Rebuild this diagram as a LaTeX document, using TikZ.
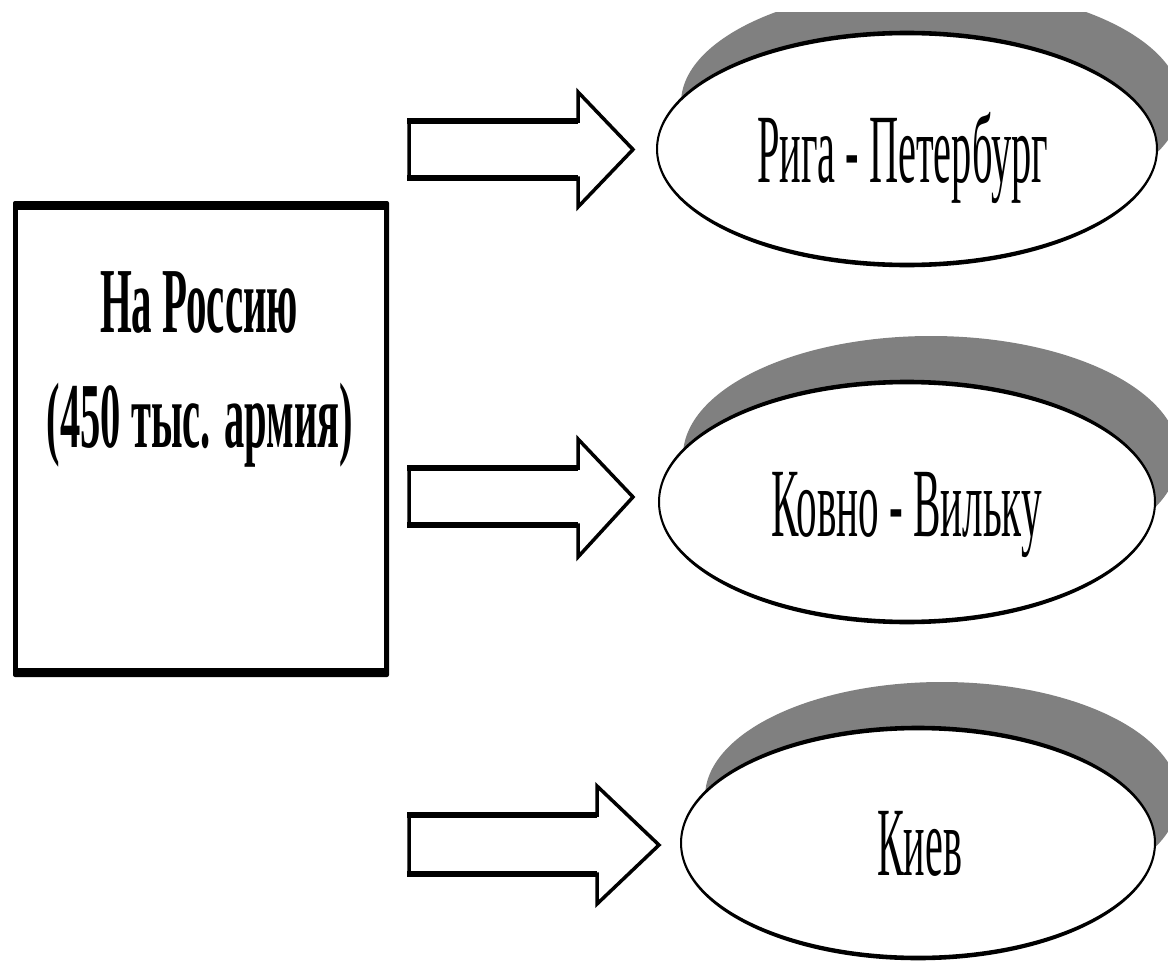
\documentclass[tikz,border=0pt]{standalone}
\usepackage{fontspec}
\setmainfont{Liberation Serif}
\usepackage{graphicx}
\definecolor{shadowgray}{HTML}{808080}
\tikzset{
  shadowfill/.style={fill=shadowgray},
  ovalfill/.style={fill=white},
  ring/.style={fill=black, even odd rule},
  arrowbody/.style={draw=black, fill=white, line width=3.5pt, line join=miter},
  shaftedge/.style={draw=black, line width=6pt},
  txt/.style={inner sep=0pt, anchor=base},
}
\newcommand{\ovaltxt}[2]{\resizebox{#1}{\height}{\fontsize{98pt}{98pt}\selectfont #2}}
\newcommand{\boxtxt}[2]{\resizebox{#1}{\height}{\fontsize{93pt}{93pt}\selectfont\bfseries #2}}
\begin{document}
\begin{tikzpicture}[x=1pt,y=-1pt]
\useasboundingbox (0,0) rectangle (1168,961);
\fill[white] (0,0) rectangle (1168,961);

% ---- main box ----
\fill[black, rounded corners=2pt] (13,201) rectangle (389,677);
\fill[white] (18,210) rectangle (384,668);
\node[txt] (russia1) at (199,332) {\boxtxt{198pt}{На Россию}};
\node[txt] (russia2) at (200,447) {\boxtxt{306pt}{(450 тыс. армия)}};

% ---- shadows ----
\begin{scope}
  \clip (0,12) rectangle (1168,961);
  \fill[shadowfill] (931,103) ellipse [x radius=250pt, y radius=116pt];
\end{scope}
\fill[shadowfill] (931,456) ellipse [x radius=248pt, y radius=120pt];
\fill[shadowfill] (942,797) ellipse [x radius=237pt, y radius=115pt];

% ---- ovals ----
\fill[ovalfill] (907,149) ellipse [x radius=250pt, y radius=116pt];
\fill[ring] (907,149) ellipse [x radius=251pt, y radius=118.3pt]
            (907,149) ellipse [x radius=249pt, y radius=113.7pt];
\node[txt] (riga) at (902.5,182) {\ovaltxt{291pt}{Рига - Петербург}};

\fill[ovalfill] (907,502) ellipse [x radius=248pt, y radius=120pt];
\fill[ring] (907,502) ellipse [x radius=249pt, y radius=122.3pt]
            (907,502) ellipse [x radius=247pt, y radius=117.7pt];
\node[txt] (kovno) at (906.5,536) {\ovaltxt{271pt}{Ковно - Вильку}};

\fill[ovalfill] (918,843) ellipse [x radius=237pt, y radius=115pt];
\fill[ring] (918,843) ellipse [x radius=238pt, y radius=117.3pt]
            (918,843) ellipse [x radius=236pt, y radius=112.7pt];
\node[txt] (kiev) at (919.5,875) {\ovaltxt{85pt}{Киев}};

% ---- block arrows ----
\filldraw[arrowbody] (409,121) -- (578,121) -- (578,92) -- (633,149.5) -- (578,207) -- (578,178) -- (409,178) -- cycle;
\draw[shaftedge] (407.3,121) -- (578,121) (407.3,178) -- (578,178);

\filldraw[arrowbody] (409,468) -- (578,468) -- (578,439) -- (633,497) -- (578,557) -- (578,525) -- (409,525) -- cycle;
\draw[shaftedge] (407.3,468) -- (578,468) (407.3,525) -- (578,525);

\filldraw[arrowbody] (409,815) -- (597,815) -- (597,786) -- (659,845) -- (597,904) -- (597,874) -- (409,874) -- cycle;
\draw[shaftedge] (407.3,815) -- (597,815) (407.3,874) -- (597,874);
\end{tikzpicture}
\end{document}
